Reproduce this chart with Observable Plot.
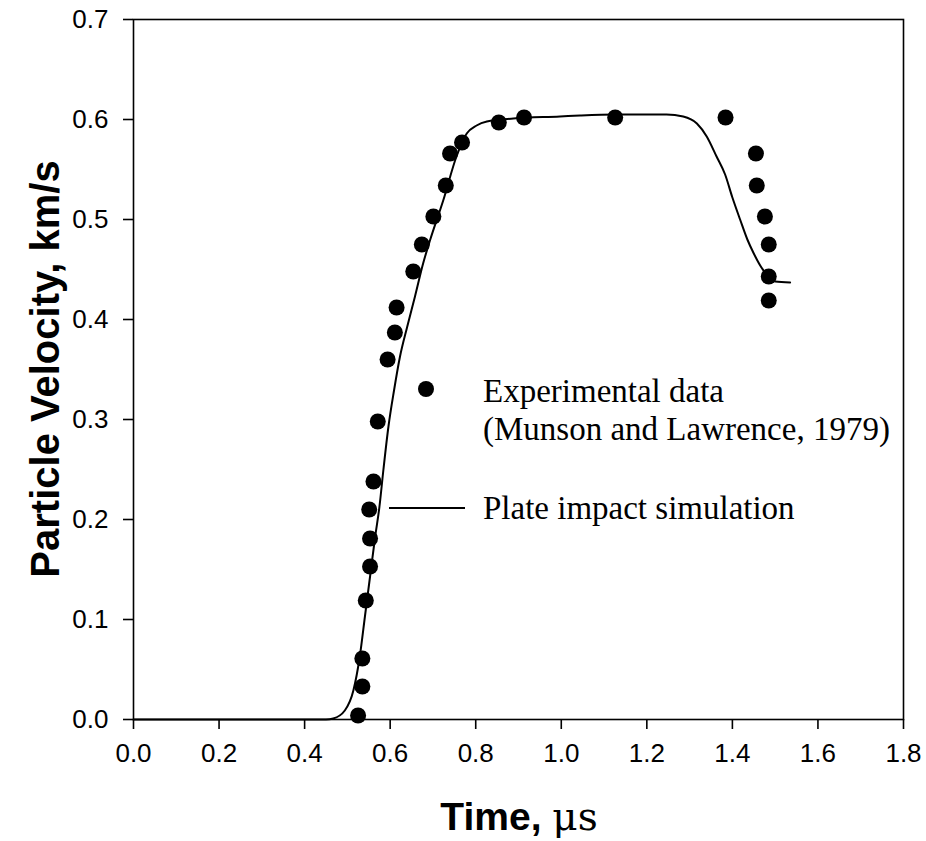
<!DOCTYPE html>
<html>
<head>
<meta charset="utf-8">
<script src="https://cdn.jsdelivr.net/npm/d3@7"></script>
<script src="https://cdn.jsdelivr.net/npm/@observablehq/plot@0.6"></script>
<style>
  html, body { margin: 0; padding: 0; background: #fff; }
</style>
</head>
<body>
<div id="chart"></div>
<script>
// Experimental data (Munson and Lawrence, 1979)
const expTime = [0.525, 0.535, 0.535, 0.543, 0.553, 0.553, 0.551, 0.561, 0.571, 0.594, 0.611, 0.615, 0.654, 0.674, 0.701, 0.730, 0.740, 0.768, 0.854, 0.913, 1.126, 1.384, 1.455, 1.457, 1.476, 1.485, 1.485, 1.485];
const expVel  = [0.004, 0.033, 0.061, 0.119, 0.153, 0.181, 0.210, 0.238, 0.298, 0.360, 0.387, 0.412, 0.448, 0.475, 0.503, 0.534, 0.566, 0.577, 0.597, 0.602, 0.602, 0.602, 0.566, 0.534, 0.503, 0.475, 0.443, 0.419];

// Plate impact simulation
const simTime = [0, 0.2, 0.4, 0.45, 0.467, 0.494, 0.514, 0.529, 0.541, 0.553, 0.565, 0.575, 0.584, 0.596, 0.609, 0.623, 0.640, 0.658, 0.677, 0.693, 0.724, 0.755, 0.779, 0.802, 0.826, 0.888, 0.997, 1.044, 1.126, 1.246, 1.285, 1.317, 1.340, 1.363, 1.383, 1.400, 1.418, 1.435, 1.450, 1.465, 1.480, 1.500, 1.535];
const simVel  = [0, 0, 0, 0.0, 0.001, 0.009, 0.029, 0.063, 0.103, 0.143, 0.183, 0.213, 0.249, 0.293, 0.329, 0.363, 0.393, 0.423, 0.456, 0.479, 0.519, 0.563, 0.586, 0.594, 0.598, 0.601, 0.603, 0.604, 0.605, 0.605, 0.603, 0.596, 0.583, 0.563, 0.545, 0.522, 0.500, 0.480, 0.466, 0.454, 0.445, 0.438, 0.437];

const xTicks = [0, 0.2, 0.4, 0.6, 0.8, 1.0, 1.2, 1.4, 1.6, 1.8];
const yTicks = [0, 0.1, 0.2, 0.3, 0.4, 0.5, 0.6, 0.7];

const xTitle = "Time, ";
const xTitleUnit = "μs";
const yTitle = "Particle Velocity, km/s";
const legendExp = ["Experimental data", "(Munson and Lawrence, 1979)"];
const legendSim = "Plate impact simulation";

const expData = expTime.map((t, i) => ({t, v: expVel[i]}));
const simData = simTime.map((t, i) => ({t, v: simVel[i]}));

const chart = Plot.plot({
  width: 926,
  height: 841,
  marginLeft: 133,
  marginRight: 23,
  marginTop: 19,
  marginBottom: 122,
  style: {fontFamily: "'Liberation Sans', Arial, sans-serif", fontSize: "26px", color: "#000", background: "#fff", overflow: "visible"},
  x: {domain: [0, 1.8]},
  y: {domain: [0, 0.7]},
  marks: [
    Plot.line(simData, {x: "t", y: "v", stroke: "#000", strokeWidth: 2, curve: "monotone-x"}),
    Plot.dot(expData, {x: "t", y: "v", r: 8, fill: "#000", stroke: "none"}),
    Plot.frame({stroke: "#000", strokeWidth: 1.6}),
    Plot.axisX({ticks: xTicks, tickFormat: d => d.toFixed(1), tickSize: 10, tickPadding: 14, label: null, strokeWidth: 1.6}),
    Plot.axisY({ticks: yTicks, tickFormat: d => d.toFixed(1), tickSize: 10, tickPadding: 15, label: null, strokeWidth: 1.6})
  ]
});

document.getElementById("chart").appendChild(chart);

const svg = d3.select(chart);
// Axis titles
const xt = svg.append("text")
  .attr("x", 519).attr("y", 830)
  .attr("text-anchor", "middle")
  .attr("font-family", "'Liberation Sans', Arial, sans-serif")
  .attr("font-weight", "bold").attr("font-size", 39).attr("fill", "#000");
xt.append("tspan").text(xTitle);
xt.append("tspan").attr("font-family", "'DejaVu Serif', 'Liberation Serif', serif").attr("font-weight", "normal").text(xTitleUnit);

svg.append("text")
  .attr("transform", "translate(59,369) rotate(-90)")
  .attr("text-anchor", "middle")
  .attr("font-family", "'Liberation Sans', Arial, sans-serif")
  .attr("font-weight", "bold").attr("font-size", 40).attr("fill", "#000")
  .text(yTitle);

// Legend
const lg = svg.append("g")
  .attr("font-family", "'Liberation Serif', 'Times New Roman', serif")
  .attr("font-size", 33).attr("fill", "#000").attr("text-anchor", "start");
lg.append("circle").attr("cx", 426).attr("cy", 389).attr("r", 8).attr("fill", "#000");
lg.append("text").attr("x", 483).attr("y", 402).text(legendExp[0]);
lg.append("text").attr("x", 483).attr("y", 440).text(legendExp[1]);
lg.append("line").attr("x1", 389).attr("x2", 465).attr("y1", 508).attr("y2", 508).attr("stroke", "#000").attr("stroke-width", 2);
lg.append("text").attr("x", 483).attr("y", 519).text(legendSim);
</script>
</body>
</html>
